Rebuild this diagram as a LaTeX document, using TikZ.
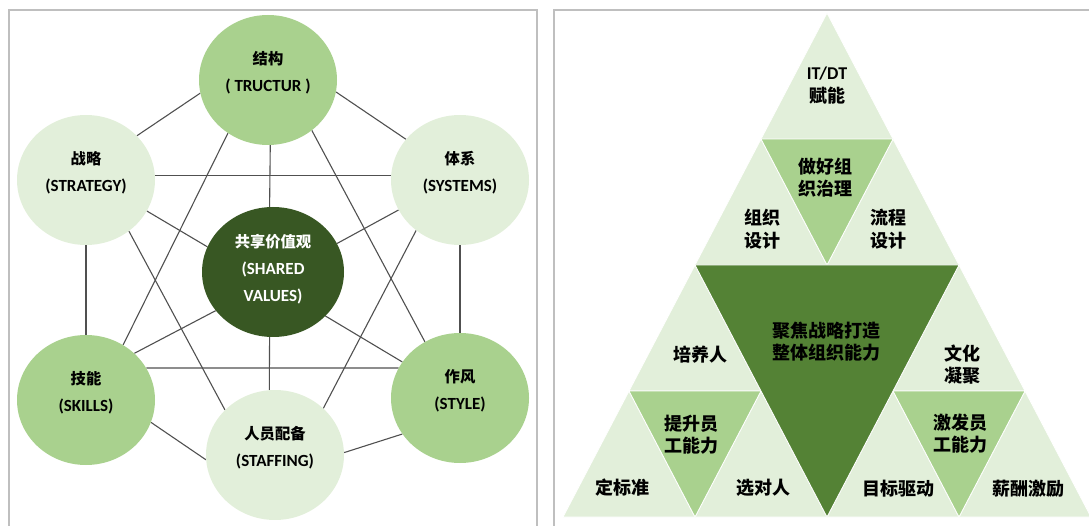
\documentclass[tikz,border=0pt]{standalone}
\usepackage{fontspec}
\setmainfont{Carlito}
\newfontfamily\cjk{Noto Sans CJK SC}[Scale=0.9]
\usetikzlibrary{shapes.geometric,backgrounds}
\newcommand{\zh}[1]{{\cjk #1}}
\definecolor{lightgrn}{RGB}{226,239,218}
\definecolor{midgrn}{RGB}{169,209,142}
\definecolor{darkgrn}{RGB}{56,87,35}
\definecolor{deepgrn}{RGB}{84,130,53}
\definecolor{linkgray}{RGB}{80,80,80}
\definecolor{framegray}{RGB}{191,191,191}

\begin{document}
\begin{tikzpicture}[x=1pt,y=-1pt,
  ring/.style={ellipse,inner sep=0pt,minimum width=138pt,minimum height=130pt,fill=#1},
  tag/.style={align=center,text=black,font=\bfseries\fontsize{17}{27}\selectfont},
  link/.style={linkgray,line width=1.1pt},
  frame/.style={framegray,line width=2.5pt},
  tri/.style={fill=#1,draw=white,line width=0.8pt,line join=round},
  word/.style={align=center,text=black,font=\bfseries\fontsize{20}{22.5}\selectfont}]
\useasboundingbox (0,0) rectangle (1089,526);
% frames
\draw[frame] (9,530) -- (9,10) -- (537,10) -- (537,530);
\draw[frame] (554,530) -- (554,10) -- (1095,10);

% 7S circles
\node[ring=midgrn] (top) at (268,80) {};
\node[ring=lightgrn] (str) at (86,180) {};
\node[ring=lightgrn] (sys) at (460,180) {};
\node[ring=darkgrn,minimum width=142pt] (val) at (273,272) {};
\node[ring=midgrn] (skl) at (86,400) {};
\node[ring=midgrn] (sty) at (460,398) {};
\node[ring=lightgrn] (stf) at (275,455) {};

\node[tag] (topt) at ([yshift=7pt]top.center) {\zh{结构}\\( TRUCTUR )};
\node[tag] (strt) at ([yshift=7pt]str.center) {\zh{战略}\\(STRATEGY)};
\node[tag] (syst) at ([yshift=7pt]sys.center) {\zh{体系}\\(SYSTEMS)};
\node[tag,text=white] (valt) at ([yshift=3pt]val.center) {\zh{共享价值观}\\(SHARED\\VALUES)};
\node[tag] (sklt) at ([yshift=7pt]skl.center) {\zh{技能}\\(SKILLS)};
\node[tag] (styt) at ([yshift=7pt]sty.center) {\zh{作风}\\(STYLE)};
\node[tag] (stft) at ([yshift=7pt]stf.center) {\zh{人员配备}\\(STAFFING)};

\begin{scope}[on background layer]
\foreach \a/\b in {top.191/str.41, top.350/sys.143, str.4/sys.176,
    top.272/val.93, top.233/skl.56, top.311/sty.122,
    str.333/val.159, str.south/skl.north, str.310/stf.138,
    sys.206/val.24, sys.229/stf.44, sys.south/sty.north,
    skl.44/val.214, skl.28/sty.154, skl.341/stf.184,
    val.320/sty.148, sty.212/stf.2, val.267/stf.95}
  \draw[link] (\a) -- (\b);
\end{scope}

% triangle
\foreach \x/\y in {827/13, 761/139, 893/139, 695/265, 629/391, 761/391, 959/265, 893/391, 1025/391}
  \draw[tri=lightgrn] (\x,\y) -- ++(-66,126) -- ++(132,0) -- cycle;
\foreach \x/\y in {827/139, 695/391, 959/391}
  \draw[tri=midgrn] (\x-66,\y) -- ++(132,0) -- ++(-66,126) -- cycle;
\draw[tri=deepgrn] (695,265) -- (959,265) -- (827,517) -- cycle;

\node[word] (itdt) at (827,85.5) {{\fontsize{18}{22.5}\selectfont IT/DT}\\\zh{赋能}};
\node[word] (gov) at (825,177.5) {\zh{做好组}\\\zh{织治理}};
\node[word] (orgd) at (762,229) {\zh{组织}\\\zh{设计}};
\node[word] (proc) at (888,229) {\zh{流程}\\\zh{设计}};
\node[word] (core) at (826,341.5) {\zh{聚焦战略打造}\\\zh{整体组织能力}};
\node[word] (train) at (700,355) {\zh{培养人}};
\node[word] (cult) at (962,364.5) {\zh{文化}\\\zh{凝聚}};
\node[word] (grow) at (691,434.5) {\zh{提升员}\\\zh{工能力}};
\node[word] (moti) at (960,433.5) {\zh{激发员}\\\zh{工能力}};
\node[word] (std) at (622,488) {\zh{定标准}};
\node[word] (pick) at (763,488) {\zh{选对人}};
\node[word] (goal) at (898,489) {\zh{目标驱动}};
\node[word] (pay) at (1028,489) {\zh{薪酬激励}};
\end{tikzpicture}
\end{document}
